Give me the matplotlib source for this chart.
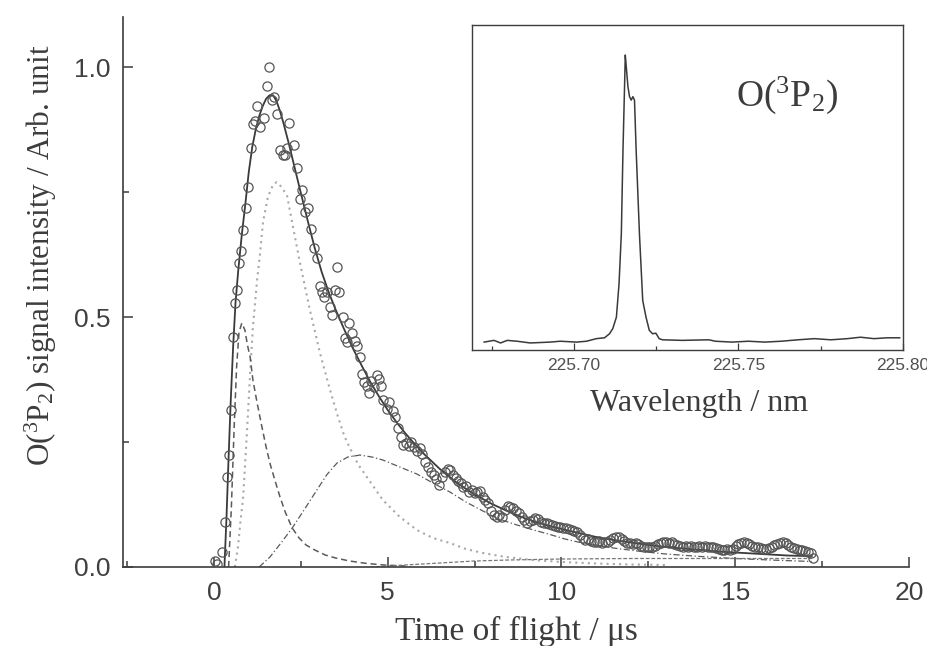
import matplotlib
matplotlib.use("Agg")
import matplotlib.pyplot as plt
from matplotlib.ticker import MultipleLocator

plt.rcParams['mathtext.fontset'] = 'custom'
plt.rcParams['mathtext.rm'] = 'Liberation Serif'
plt.rcParams['mathtext.it'] = 'Liberation Serif:italic'

# ---- time-of-flight signal (circles) ----
tof_x = [0.03, 0.10, 0.24, 0.33, 0.38, 0.43, 0.50, 0.55, 0.60, 0.66, 0.72, 0.78, 0.84, 0.93, 0.98,
         1.06, 1.12, 1.18, 1.24, 1.33, 1.43, 1.53, 1.58, 1.66, 1.74, 1.81, 1.90, 1.98, 2.05, 2.10,
         2.16, 2.30, 2.39, 2.47, 2.53, 2.62, 2.70, 2.78, 2.88, 2.96, 3.05, 3.12, 3.16, 3.25, 3.34,
         3.40, 3.48, 3.54, 3.60, 3.71, 3.77, 3.83, 3.88, 3.97, 4.06, 4.11, 4.20, 4.26, 4.32, 4.40,
         4.46, 4.53, 4.60, 4.69, 4.75, 4.81, 4.86, 4.98, 5.04, 5.15, 5.22, 5.30, 5.37, 5.44, 5.52,
         5.60, 5.68, 5.76, 5.85, 5.93, 6.00, 6.08, 6.16, 6.24, 6.32, 6.40, 6.48, 6.56, 6.64, 6.72,
         6.79, 6.87, 6.95, 7.03, 7.10, 7.18, 7.26, 7.34, 7.42, 7.50, 7.58, 7.65, 7.73, 7.81, 7.89,
         7.97, 8.05, 8.13, 8.21, 8.29, 8.37, 8.45, 8.53, 8.61, 8.69, 8.77, 8.85, 8.93, 9.01, 9.09,
         9.17, 9.25, 9.33, 9.41, 9.49, 9.57, 9.65, 9.73, 9.81, 9.89, 9.97, 10.05, 10.13, 10.21, 10.29,
         10.37, 10.45, 10.53, 10.61, 10.69, 10.77, 10.85, 10.93, 11.01, 11.09, 11.17, 11.25, 11.33,
         11.41, 11.49, 11.57, 11.65, 11.73, 11.81, 11.89, 11.97, 12.05, 12.13, 12.21, 12.29, 12.37,
         12.45, 12.53, 12.61, 12.69, 12.77, 12.85, 12.93, 13.01, 13.09, 13.17, 13.25, 13.33, 13.41,
         13.49, 13.57, 13.65, 13.73, 13.81, 13.89, 13.97, 14.05, 14.13, 14.21, 14.29, 14.37, 14.45,
         14.53, 14.61, 14.69, 14.77, 14.85, 14.93, 15.01, 15.09, 15.17, 15.25, 15.33, 15.41, 15.49,
         15.57, 15.65, 15.73, 15.81, 15.89, 15.97, 16.05, 16.13, 16.21, 16.29, 16.37, 16.45, 16.53,
         16.61, 16.69, 16.77, 16.85, 16.93, 17.01, 17.09, 17.17, 17.25]
tof_y = [0.012, 0.005, 0.030, 0.090, 0.180, 0.225, 0.315, 0.460, 0.528, 0.555, 0.608, 0.632, 0.674,
         0.718, 0.760, 0.838, 0.886, 0.892, 0.922, 0.880, 0.898, 0.962, 1.000, 0.934, 0.940, 0.906,
         0.834, 0.824, 0.824, 0.838, 0.888, 0.844, 0.798, 0.736, 0.754, 0.710, 0.718, 0.676, 0.638,
         0.618, 0.562, 0.550, 0.540, 0.550, 0.520, 0.504, 0.554, 0.600, 0.550, 0.500, 0.458, 0.450,
         0.488, 0.468, 0.452, 0.442, 0.420, 0.386, 0.370, 0.362, 0.348, 0.372, 0.360, 0.384, 0.376,
         0.362, 0.334, 0.316, 0.330, 0.312, 0.300, 0.278, 0.260, 0.245, 0.248, 0.243, 0.250, 0.240,
         0.232, 0.238, 0.226, 0.210, 0.200, 0.190, 0.185, 0.176, 0.165, 0.180, 0.190, 0.196, 0.194,
         0.185, 0.178, 0.172, 0.168, 0.160, 0.162, 0.150, 0.155, 0.148, 0.150, 0.152, 0.140, 0.134,
         0.128, 0.112, 0.104, 0.100, 0.104, 0.100, 0.115, 0.122, 0.120, 0.118, 0.112, 0.108, 0.100,
         0.095, 0.088, 0.092, 0.094, 0.098, 0.096, 0.090, 0.088, 0.088, 0.086, 0.084, 0.082, 0.080,
         0.080, 0.078, 0.078, 0.076, 0.074, 0.072, 0.070, 0.064, 0.058, 0.054, 0.056, 0.052, 0.050,
         0.050, 0.052, 0.048, 0.050, 0.050, 0.054, 0.058, 0.060, 0.060, 0.056, 0.052, 0.048, 0.048,
         0.046, 0.048, 0.046, 0.042, 0.040, 0.040, 0.040, 0.040, 0.042, 0.046, 0.048, 0.050, 0.050,
         0.048, 0.050, 0.046, 0.044, 0.042, 0.040, 0.042, 0.040, 0.042, 0.040, 0.040, 0.042, 0.040,
         0.042, 0.040, 0.040, 0.040, 0.038, 0.036, 0.034, 0.034, 0.036, 0.034, 0.036, 0.042, 0.046,
         0.048, 0.050, 0.048, 0.046, 0.042, 0.040, 0.040, 0.038, 0.036, 0.036, 0.038, 0.040, 0.044,
         0.046, 0.048, 0.050, 0.048, 0.044, 0.040, 0.038, 0.036, 0.034, 0.034, 0.032, 0.030, 0.028,
         0.018]

# ---- total fit (solid) ----
fit_x = [0.30, 0.36, 0.42, 0.48, 0.55, 0.62, 0.70, 0.80, 0.90, 1.00, 1.10, 1.20, 1.30, 1.40, 1.50,
         1.60, 1.70, 1.80, 1.90, 2.00, 2.15, 2.30, 2.50, 2.70, 2.90, 3.10, 3.30, 3.50, 3.75, 4.00,
         4.25, 4.50, 4.75, 5.00, 5.25, 5.50, 5.75, 6.00, 6.50, 7.00, 7.50, 8.00, 8.50, 9.00, 9.50,
         10.00, 10.50, 11.00, 11.50, 12.00, 12.50, 13.00, 13.50, 14.00, 14.50, 15.00, 15.50, 16.00,
         16.50, 17.00, 17.20]
fit_y = [0.000, 0.100, 0.220, 0.330, 0.440, 0.530, 0.595, 0.665, 0.725, 0.790, 0.840, 0.875, 0.902,
         0.922, 0.937, 0.944, 0.944, 0.932, 0.912, 0.888, 0.848, 0.805, 0.748, 0.692, 0.638, 0.590,
         0.550, 0.515, 0.475, 0.437, 0.403, 0.370, 0.341, 0.314, 0.290, 0.268, 0.248, 0.229, 0.196,
         0.168, 0.145, 0.126, 0.110, 0.096, 0.085, 0.076, 0.068, 0.060, 0.054, 0.049, 0.044, 0.040,
         0.037, 0.034, 0.031, 0.029, 0.027, 0.025, 0.023, 0.022, 0.021]

# ---- fast component (dashed) ----
fast_x = [0.42, 0.50, 0.58, 0.65, 0.72, 0.80, 0.89, 0.96, 1.04, 1.12, 1.25, 1.38, 1.50, 1.62, 1.76,
          1.90, 2.05, 2.25, 2.45, 2.65, 2.90, 3.20, 3.50, 3.90, 4.40, 4.90, 5.50]
fast_y = [0.000, 0.120, 0.280, 0.400, 0.470, 0.488, 0.474, 0.445, 0.420, 0.374, 0.325, 0.280, 0.240,
          0.205, 0.172, 0.140, 0.110, 0.078, 0.058, 0.044, 0.034, 0.024, 0.018, 0.012, 0.007, 0.004,
          0.002]

# ---- intermediate component (dotted) ----
mid_x = [0.60, 0.69, 0.76, 0.84, 0.89, 0.94, 0.98, 1.05, 1.12, 1.24, 1.32, 1.41, 1.55, 1.70, 1.80,
         1.92, 2.10, 2.28, 2.47, 2.62, 2.76, 3.05, 3.34, 3.57, 3.75, 3.91, 4.15, 4.40, 4.86, 5.35,
         5.84, 6.30, 6.79, 7.25, 7.74, 8.40, 9.18, 10.0, 11.0, 12.0, 13.0]
mid_y = [0.000, 0.040, 0.090, 0.140, 0.200, 0.260, 0.310, 0.400, 0.480, 0.574, 0.624, 0.690, 0.740,
         0.765, 0.770, 0.762, 0.744, 0.678, 0.610, 0.560, 0.514, 0.428, 0.354, 0.300, 0.262, 0.238,
         0.205, 0.180, 0.134, 0.100, 0.074, 0.058, 0.048, 0.036, 0.028, 0.020, 0.014, 0.010, 0.007,
         0.005, 0.004]

# ---- slow component (dash-dot) ----
slow_x = [1.30, 1.61, 1.95, 2.27, 2.60, 2.96, 3.25, 3.54, 3.85, 4.20, 4.55, 4.86, 5.35, 5.84, 6.30,
          6.79, 7.25, 7.74, 8.20, 8.72, 9.20, 9.67, 10.1, 10.6, 11.1, 11.6, 12.3, 13.0, 14.0, 15.0,
          16.0, 17.2]
slow_y = [0.000, 0.020, 0.050, 0.080, 0.115, 0.154, 0.185, 0.208, 0.220, 0.224, 0.220, 0.214, 0.200,
          0.186, 0.168, 0.150, 0.130, 0.112, 0.096, 0.084, 0.074, 0.065, 0.056, 0.048, 0.042, 0.037,
          0.031, 0.026, 0.021, 0.017, 0.014, 0.011]

# ---- very slow component (short dashes near baseline) ----
base_x = [4.5, 5.5, 6.5, 7.5, 8.5, 10.0, 12.0, 14.0, 16.0, 17.2]
base_y = [0.000, 0.004, 0.008, 0.012, 0.014, 0.016, 0.017, 0.017, 0.017, 0.017]

# ---- REMPI spectrum (inset) ----
wl = [225.6727, 225.6757, 225.6777, 225.6797, 225.6827, 225.6867, 225.6928, 225.6958, 225.7008,
      225.7038, 225.7068, 225.7093, 225.7108, 225.7118, 225.7129, 225.7137, 225.7144, 225.7149,
      225.7154, 225.7156, 225.7159, 225.7164, 225.7169, 225.7174, 225.7179, 225.7184, 225.7189,
      225.7199, 225.7209, 225.7219, 225.7229, 225.7239, 225.7249, 225.7259, 225.7269, 225.7329,
      225.7410, 225.7430, 225.7480, 225.7530, 225.7580, 225.7630, 225.7681, 225.7731, 225.7781,
      225.7831, 225.7871, 225.7912, 225.7952, 225.7990]
spec = [0.000, 0.006, -0.003, 0.006, 0.003, -0.003, 0.000, 0.003, 0.000, 0.003, 0.012, 0.015,
        0.029, 0.047, 0.087, 0.203, 0.378, 0.669, 0.901, 1.000, 0.959, 0.890, 0.855, 0.843, 0.855,
        0.843, 0.669, 0.378, 0.145, 0.087, 0.041, 0.029, 0.031, 0.012, 0.008, 0.006, 0.008, 0.003,
        0.000, 0.003, 0.000, 0.003, 0.008, 0.012, 0.008, 0.012, 0.017, 0.012, 0.015, 0.015]

main_ticks = [0, 5, 10, 15, 20]
inset_ticks = [225.70, 225.75, 225.80]

ink = '#3c3c3c'
serif = 'Liberation Serif'
sans = 'Liberation Sans'

fig = plt.figure(figsize=(9.28, 6.46), dpi=100)
ax = fig.add_axes([0.1325, 0.1223, 0.847, 0.851])

ax.plot(mid_x, mid_y, linestyle=(0, (1, 2)), color='#a8a8a8', lw=1.5, zorder=2)
ax.plot(fast_x, fast_y, linestyle=(0, (4, 2.5)), color='#5a5a5a', lw=1.1, zorder=2)
ax.plot(slow_x, slow_y, linestyle=(0, (5, 2, 1, 2)), color='#5a5a5a', lw=0.9, zorder=2)
ax.plot(base_x, base_y, linestyle=(0, (3, 1.5)), color='#777777', lw=0.9, zorder=2)
ax.plot(fit_x, fit_y, '-', color='#3a3a3a', lw=1.3, zorder=3)
ax.plot(tof_x, tof_y, 'o', mfc='none', mec='#555555', ms=6.6, mew=0.9, zorder=4)

ax.set_xlim(-2.62, 20)
ax.set_ylim(0, 1.1)
for s in ('top', 'right'):
    ax.spines[s].set_visible(False)
for s in ('left', 'bottom'):
    ax.spines[s].set_color(ink)
    ax.spines[s].set_linewidth(1.2)

ax.set_xticks(main_ticks)
ax.xaxis.set_minor_locator(MultipleLocator(2.5))
ax.set_yticks([0.0, 0.5, 1.0])
ax.set_yticklabels(['0.0', '0.5', '1.0'])
ax.yaxis.set_minor_locator(MultipleLocator(0.25))
ax.tick_params(which='both', direction='in', colors=ink, width=1.1)
ax.tick_params(which='major', length=7, labelsize=19)
ax.tick_params(axis='x', which='major', pad=10)
ax.tick_params(axis='y', which='major', pad=9)
ax.tick_params(which='minor', length=4)
for lab in ax.get_xticklabels() + ax.get_yticklabels():
    lab.set_fontfamily(sans)
    lab.set_color('#404040')

ax.set_xlabel('Time of flight / μs', fontfamily=serif, fontsize=24, color=ink, labelpad=8)
ax.set_ylabel(r'O($\mathregular{^3}$P$\mathregular{_2}$) signal intensity / Arb. unit',
              fontfamily=serif, fontsize=22.5, color=ink)
ax.yaxis.set_label_coords(-0.082, 0.567)

# inset: REMPI spectrum
ins = fig.add_axes([0.5086, 0.458, 0.4644, 0.503])
ins.plot(wl, spec, '-', color='#3a3a3a', lw=1.1)
ins.set_xlim(225.669, 225.80)
ins.set_ylim(-0.028, 1.104)
ins.set_xticks(inset_ticks)
ins.set_xticklabels(['225.70', '225.75', '225.80'])
ins.xaxis.set_minor_locator(MultipleLocator(0.025))
ins.set_yticks([])
ins.tick_params(which='both', direction='in', colors=ink, width=0.9)
ins.tick_params(which='major', length=5, labelsize=12.5, pad=6)
ins.tick_params(which='minor', length=3)
for lab in ins.get_xticklabels():
    lab.set_fontfamily(sans)
    lab.set_color('#505050')
for s in ins.spines.values():
    s.set_color(ink)
    s.set_linewidth(1.0)
ins.set_xlabel('Wavelength / nm', fontfamily=serif, fontsize=23, color=ink)
ins.xaxis.set_label_coords(0.527, -0.12)
ins.text(0.73, 0.785, r'O($\mathregular{^3}$P$\mathregular{_2}$)', transform=ins.transAxes,
         ha='center', va='center', fontfamily=serif, fontsize=27, color=ink)

fig.savefig('out.png', dpi=100, facecolor='white')
